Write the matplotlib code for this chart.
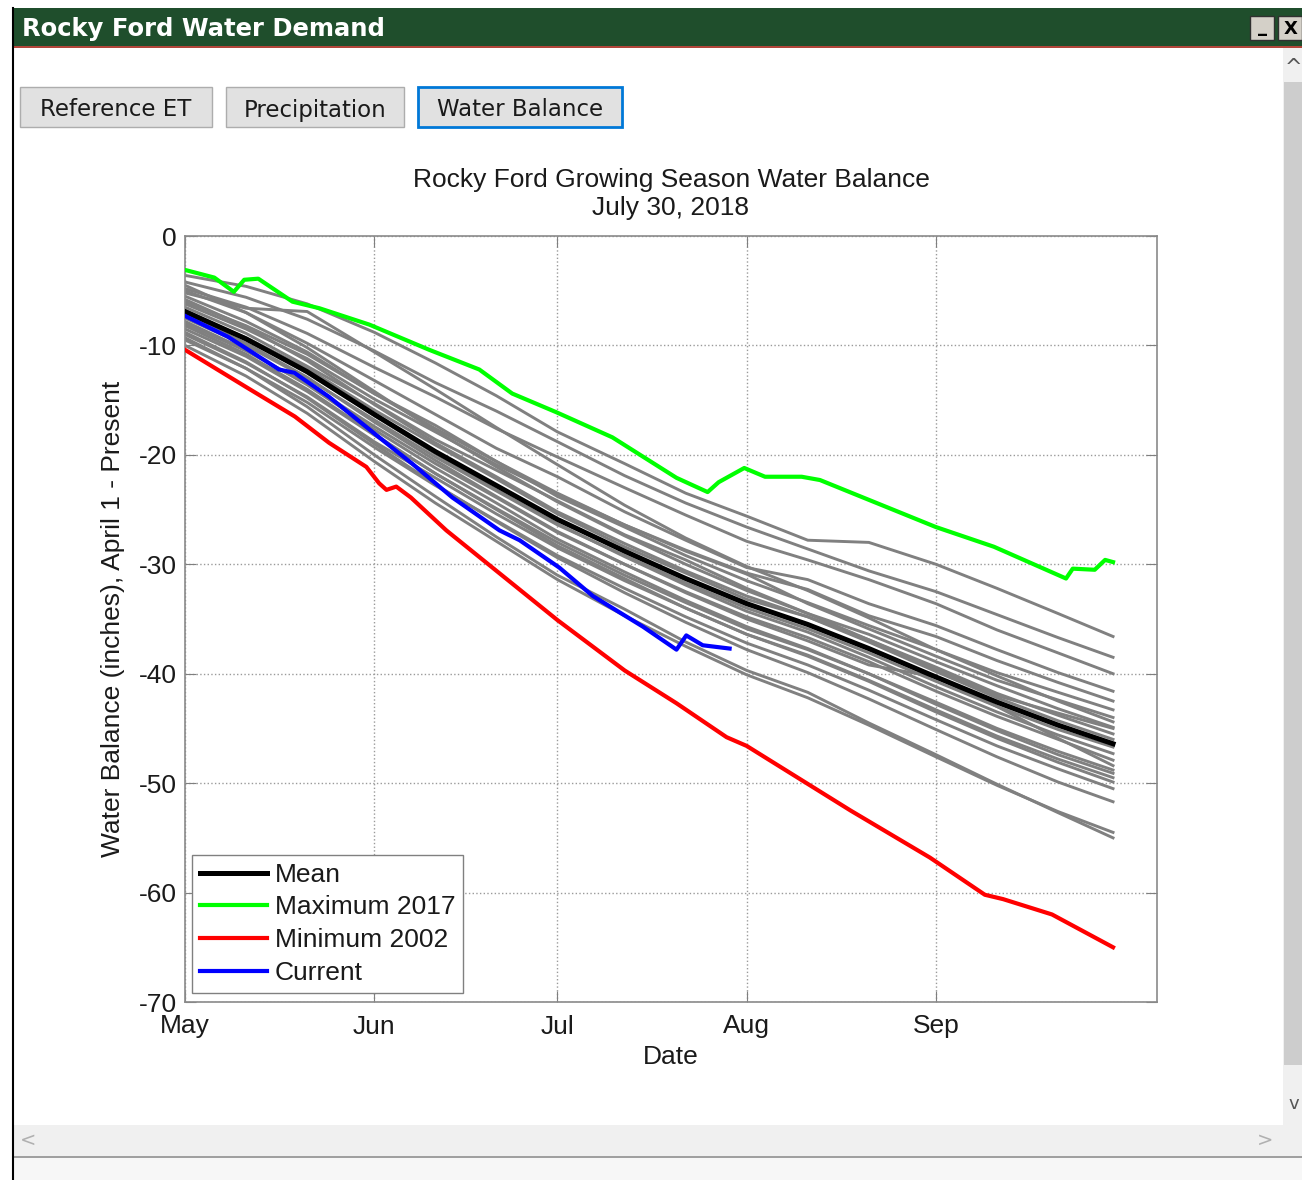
import matplotlib
matplotlib.use("Agg")
import matplotlib.pyplot as plt
import pandas as pd
from matplotlib.patches import Rectangle

SEASON_START = pd.Timestamp("2018-05-01")

# days since May 1 for the historical years and the mean
grid_days = [0, 10, 20, 31, 41, 51, 61, 72, 82, 92, 102, 112, 123, 133, 143, 152]
mean_wb = [-6.9, -9.4, -12.4, -16.3, -19.7, -22.8, -25.9, -28.8, -31.3, -33.6,
           -35.5, -37.7, -40.3, -42.6, -44.7, -46.4]

# other historical years (inches), one row per year
other_years = [
    [-3.6, -4.6, -6.2, -8.8, -11.6, -14.6, -17.9, -20.8, -23.5, -25.6, -27.8, -28.0, -30.0, -32.2, -34.5, -36.6],
    [-4.2, -5.6, -7.6, -10.5, -13.4, -16.0, -18.8, -21.9, -24.4, -26.6, -28.6, -30.6, -32.5, -34.6, -36.7, -38.5],
    [-4.8, -6.5, -8.9, -12.0, -14.7, -17.6, -20.2, -23.0, -25.5, -27.9, -29.6, -31.4, -33.6, -36.0, -38.1, -40.0],
    [-5.0, -7.0, -9.8, -13.2, -16.3, -19.4, -22.0, -25.2, -27.8, -30.3, -31.4, -33.6, -35.6, -37.8, -39.9, -41.6],
    [-5.5, -7.8, -10.6, -14.4, -17.6, -20.6, -23.8, -26.6, -29.2, -31.5, -33.5, -35.6, -37.8, -39.9, -41.7, -43.3],
    [-6.0, -8.2, -10.8, -14.4, -17.3, -20.6, -23.5, -26.4, -28.8, -30.9, -33.6, -35.9, -38.4, -40.6, -42.4, -44.0],
    [-5.2, -6.6, -6.9, -10.6, -14.0, -17.5, -20.9, -24.6, -27.6, -30.2, -32.4, -34.9, -37.8, -40.2, -42.5, -44.4],
    [-6.5, -8.9, -11.9, -15.3, -18.6, -21.4, -24.2, -27.3, -29.6, -32.2, -34.5, -36.4, -38.9, -41.1, -43.2, -44.9],
    [-7.0, -9.3, -12.1, -15.9, -19.1, -22.2, -25.4, -28.4, -30.8, -33.2, -34.8, -36.9, -39.4, -41.8, -43.8, -45.5],
    [-5.8, -8.3, -11.4, -15.4, -18.9, -22.0, -25.2, -28.1, -30.6, -32.9, -34.8, -37.1, -39.8, -42.2, -44.3, -46.0],
    [-7.5, -10.0, -13.0, -16.8, -20.2, -23.3, -26.4, -29.2, -31.7, -34.0, -35.9, -38.1, -40.7, -43.0, -45.1, -46.7],
    [-6.8, -9.4, -12.5, -16.4, -19.9, -23.2, -26.3, -29.3, -31.9, -34.3, -36.2, -38.5, -41.2, -43.5, -45.6, -47.3],
    [-8.0, -10.5, -13.5, -17.4, -20.8, -23.9, -27.1, -30.0, -32.5, -34.8, -36.7, -38.9, -41.6, -43.9, -46.0, -47.9],
    [-7.2, -9.8, -12.9, -17.0, -20.5, -23.8, -27.0, -30.0, -32.6, -35.0, -37.0, -39.2, -40.3, -43.0, -45.9, -48.4],
    [-8.5, -11.0, -14.2, -18.2, -21.7, -24.9, -28.0, -31.0, -33.5, -35.9, -37.8, -40.0, -42.6, -45.0, -47.1, -48.8],
    [-7.8, -10.4, -13.6, -17.7, -21.2, -24.4, -27.7, -30.7, -33.3, -35.7, -37.7, -40.0, -42.8, -45.2, -47.4, -49.1],
    [-9.0, -11.6, -14.7, -18.8, -22.1, -25.4, -28.5, -31.5, -34.0, -36.4, -38.3, -40.6, -43.3, -45.7, -47.8, -49.5],
    [-8.2, -10.8, -14.0, -18.1, -21.7, -25.0, -28.3, -31.3, -34.0, -36.4, -38.4, -40.7, -43.5, -45.9, -48.1, -49.9],
    [-9.5, -12.1, -15.2, -19.3, -22.8, -26.0, -29.2, -32.2, -34.8, -37.2, -39.2, -41.5, -44.2, -46.6, -48.7, -50.5],
    [-8.8, -11.5, -14.8, -19.0, -22.7, -26.1, -29.4, -32.6, -35.3, -37.8, -39.9, -42.3, -45.1, -47.6, -49.9, -51.7],
    [-10.0, -12.8, -16.2, -20.6, -24.4, -27.9, -31.4, -34.7, -37.5, -40.1, -42.2, -44.7, -47.6, -50.2, -52.6, -54.5],
    [-9.3, -12.1, -15.6, -20.0, -23.8, -27.5, -31.0, -34.1, -37.1, -39.7, -41.7, -44.5, -47.4, -50.1, -52.7, -55.0],
    [-4.5, -7.0, -10.2, -14.2, -17.8, -21.1, -24.3, -27.4, -30.0, -32.4, -34.5, -36.9, -39.6, -42.0, -43.6, -45.0],
    [-6.2, -8.5, -11.2, -14.9, -17.9, -20.9, -23.6, -26.4, -28.7, -30.8, -32.3, -34.7, -36.6, -38.8, -40.8, -42.5],
]

max_days = [0, 4.8, 8.0, 9.7, 12, 17.6, 22, 30.2, 40, 48.2, 53.6, 60.8, 70, 80.5,
            85.6, 87.4, 91.6, 95, 101, 104, 123, 132.5, 144.3, 145.4, 149, 150.7, 152]
max_2017 = [-3.1, -3.8, -5.1, -4.0, -3.9, -6.0, -6.6, -8.1, -10.4, -12.2, -14.4, -16.1,
            -18.4, -22.1, -23.4, -22.5, -21.2, -22.0, -22.0, -22.3, -26.6, -28.4, -31.3,
            -30.4, -30.5, -29.6, -29.8]

min_days = [0, 10, 18, 23.6, 29.7, 31.8, 33, 34.6, 37, 42.8, 61, 72, 80.5, 88.7,
            92, 109, 122, 131, 134, 142, 152]
min_2002 = [-10.4, -13.8, -16.5, -18.9, -21.1, -22.6, -23.2, -22.9, -23.9, -26.9,
            -35.1, -39.7, -42.7, -45.8, -46.6, -52.5, -56.8, -60.2, -60.6, -62.0, -65.0]

cur_days = [0, 7, 15.4, 17.9, 23.6, 31.8, 37.2, 43.8, 51.5, 54.8, 61.3, 66.8, 75,
            80.5, 82.1, 84.8, 89.2]
current = [-7.3, -9.2, -12.2, -12.5, -14.7, -18.4, -20.8, -23.9, -26.9, -27.8, -30.3,
           -32.9, -35.7, -37.8, -36.5, -37.4, -37.7]

month_ticks = ["2018-05-01", "2018-06-01", "2018-07-01", "2018-08-01", "2018-09-01"]
month_labels = ["May", "Jun", "Jul", "Aug", "Sep"]
y_ticks = [0, -10, -20, -30, -40, -50, -60, -70]
button_labels = ["Reference ET", "Precipitation", "Water Balance"]


def to_dates(days):
    return SEASON_START + pd.to_timedelta(days, unit="D")


CHART_FONT = ["Liberation Sans", "DejaVu Sans"]
FS = 19
fig = plt.figure(figsize=(13.02, 11.8), dpi=100)
fig.set_facecolor("white")

# window chrome drawn in pixel coordinates
bg = fig.add_axes([0, 0, 1, 1])
bg.set_xlim(0, 1302)
bg.set_ylim(1180, 0)
bg.axis("off")


def box(x, y, w, h, fc, ec="none", lw=0):
    bg.add_patch(Rectangle((x, y), w, h, facecolor=fc, edgecolor=ec, linewidth=lw))


box(12, 8, 1290, 38, "#1f4e2c")
box(12, 46, 1290, 2, "#b2453a")
bg.plot([12.5, 12.5], [8, 1180], color="black", lw=1.5)
bg.text(22, 29, "Rocky Ford Water Demand", color="white", fontsize=17.5,
        fontweight="bold", va="center", ha="left", family="DejaVu Sans")
box(1250, 16, 24, 24, "#d4d0c8", "#303030", 1)
box(1278, 16, 24, 24, "#d4d0c8", "#303030", 1)
bg.text(1262, 27, "_", fontsize=13, fontweight="bold", ha="center", va="center")
bg.text(1291, 29, "X", fontsize=13, fontweight="bold", ha="center", va="center")

# scrollbars
box(1283, 48, 19, 1077, "#f0f0f0")
box(1284, 82, 18, 983, "#cdcdcd")
bg.text(1294, 68, "^", fontsize=15, color="#555555", ha="center", va="center")
bg.text(1294, 1104, "v", fontsize=13, color="#555555", ha="center", va="center")
box(13, 1125, 1289, 31, "#f0f0f0")
bg.text(28, 1140, "<", fontsize=14, color="#b0b0b0", ha="center", va="center")
bg.text(1265, 1140, ">", fontsize=14, color="#b0b0b0", ha="center", va="center")
box(13, 1156, 1289, 2, "#a0a0a0")
box(13, 1158, 1289, 22, "#f7f7f7")

# tab buttons
button_x = [20, 226, 418]
button_w = [192, 178, 204]
for label, bx, bw in zip(button_labels, button_x, button_w):
    active = label == "Water Balance"
    box(bx, 87, bw, 40, "#e1e1e1", "#0078d7" if active else "#adadad", 2 if active else 1)
    bg.text(bx + bw / 2, 110, label, fontsize=16.5, ha="center", va="center",
            color="#1a1a1a", family="DejaVu Sans")

# the chart
ax = fig.add_axes([185 / 1302, 1 - 1002 / 1180, 972 / 1302, 766 / 1180])
for series in other_years:
    ax.plot(to_dates(grid_days), series, color="#808080", lw=2.1, zorder=2)
ax.plot(to_dates(grid_days), mean_wb, color="black", lw=3.6, label="Mean", zorder=3)
ax.plot(to_dates(max_days), max_2017, color="#00ff00", lw=3, label="Maximum 2017", zorder=3)
ax.plot(to_dates(min_days), min_2002, color="#ff0000", lw=3, label="Minimum 2002", zorder=3)
ax.plot(to_dates(cur_days), current, color="#0000ff", lw=3, label="Current", zorder=4)

ax.set_xlim(SEASON_START, SEASON_START + pd.Timedelta(days=159.2))
ax.set_ylim(-70, 0)
ax.set_xticks(pd.to_datetime(month_ticks))
ax.set_xticklabels(month_labels)
ax.set_yticks(y_ticks)
ax.set_yticklabels([str(v) for v in y_ticks])
ax.tick_params(direction="in", length=8, top=True, right=True, labelsize=FS,
               colors="#7f7f7f", labelcolor="#1a1a1a")
ax.tick_params(axis="x", pad=9)
ax.tick_params(axis="y", pad=6)
for lbl in ax.get_xticklabels() + ax.get_yticklabels():
    lbl.set_family(CHART_FONT)
for spine in ax.spines.values():
    spine.set_color("#8a8a8a")
    spine.set_linewidth(1.2)
ax.grid(True, linestyle=":", color="#9a9a9a", linewidth=1.0)

ax.set_title("Rocky Ford Growing Season Water Balance\nJuly 30, 2018", fontsize=FS,
             family=CHART_FONT, color="#1a1a1a", pad=15, linespacing=1.2)
ax.set_xlabel("Date", fontsize=FS, family=CHART_FONT, color="#1a1a1a", labelpad=5)
ax.set_ylabel("Water Balance (inches), April 1 - Present", fontsize=FS,
              family=CHART_FONT, color="#1a1a1a", labelpad=10)

leg = ax.legend(loc="lower left", bbox_to_anchor=(0.007, 0.012), borderaxespad=0,
                fancybox=False, framealpha=1, edgecolor="#808080",
                prop={"family": CHART_FONT, "size": FS}, handlelength=2.55,
                handletextpad=0.3, labelspacing=0.33, borderpad=0.3)
leg.get_frame().set_linewidth(1.0)
for t in leg.get_texts():
    t.set_color("#1a1a1a")

fig.savefig("out.png", dpi=100, facecolor="white")
